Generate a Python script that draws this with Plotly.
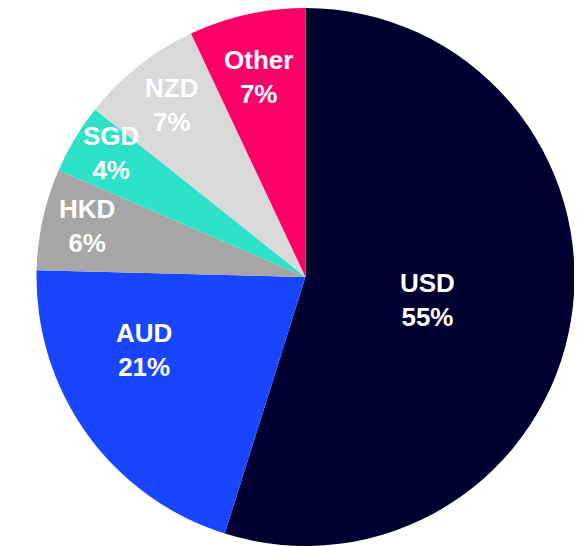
import math
import plotly.graph_objects as go

labels = ["USD", "AUD", "HKD", "SGD", "NZD", "Other"]
values = [54.85, 20.55, 6.1, 4.2, 7.3, 7.0]
colors = ["#000030", "#1a45ff", "#a6a6a6", "#2de2c8", "#d9d9d9", "#ff0069"]

# label placement styling (fraction along slice sweep, fraction of radius)
label_sweep = [0.51, 0.65, 0.53, 0.60, 0.51, 0.47]
label_radius = [0.463, 0.66, 0.834, 0.859, 0.81, 0.764]

W, H = 582, 546
dom_x = [27.5 / W, 567.5 / W]
dom_y = [0.0147, 1.0]

fig = go.Figure(go.Pie(
    labels=labels,
    values=values,
    sort=False,
    direction="clockwise",
    rotation=0,
    marker=dict(colors=colors, line=dict(width=0)),
    textinfo="none",
    showlegend=False,
    hoverinfo="label+percent",
    domain=dict(x=dom_x, y=dom_y),
))

# label positions derived from the slice angles
total = sum(values)
cx = (dom_x[0] + dom_x[1]) / 2 * W
cy = (1 - (dom_y[0] + dom_y[1]) / 2) * H
R = min((dom_x[1] - dom_x[0]) * W, (dom_y[1] - dom_y[0]) * H) / 2
start = 0.0
annotations = []
for lab, v, fs, fr in zip(labels, values, label_sweep, label_radius):
    sweep = v / total * 360
    theta = math.radians(start + fs * sweep)
    start += sweep
    px = cx + R * fr * math.sin(theta)
    py = cy - R * fr * math.cos(theta)
    annotations.append(dict(
        x=px / W, y=1 - py / H, xref="paper", yref="paper",
        xanchor="center", yanchor="middle", showarrow=False,
        text=f"<b>{lab}<br>{round(v / total * 100)}%</b>",
        font=dict(family="Liberation Sans, Arial, sans-serif", size=26, color="white"),
    ))

fig.update_layout(
    width=W,
    height=H,
    margin=dict(l=0, r=0, t=0, b=0),
    paper_bgcolor="white",
    plot_bgcolor="white",
    annotations=annotations,
)

fig.write_html("out.html")
